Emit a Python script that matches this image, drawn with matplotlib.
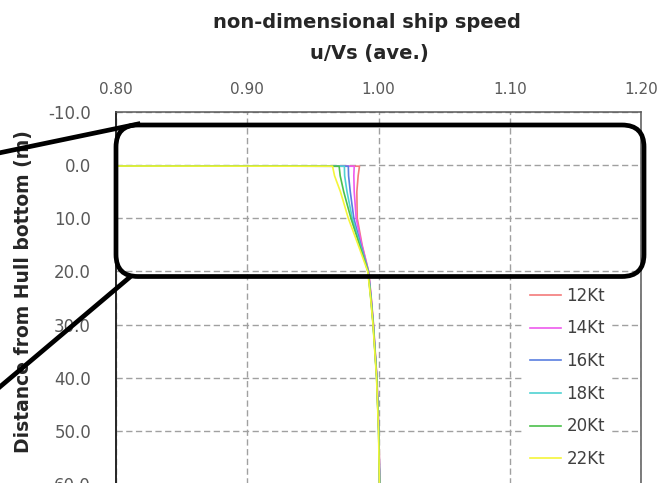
import matplotlib.pyplot as plt
import numpy as np
from matplotlib.patches import FancyBboxPatch
from matplotlib.lines import Line2D

plt.rcParams['axes.unicode_minus'] = False
plt.rcParams['font.family'] = 'DejaVu Sans'

# distance from hull bottom (m)
distance = [0.0, 0.2, 2.0, 5.0, 10.0, 15.0, 20.0, 25.0, 30.0, 40.0, 50.0, 60.0]

# u/Vs profiles per ship speed
u_12kt = [0.0, 0.9855, 0.9845, 0.9835, 0.9838, 0.9875, 0.9925, 0.9945, 0.9962, 0.9988, 1.0003, 1.0010]
u_14kt = [0.0, 0.9815, 0.9812, 0.9815, 0.9830, 0.9872, 0.9924, 0.9944, 0.9961, 0.9987, 1.0002, 1.0009]
u_16kt = [0.0, 0.9770, 0.9772, 0.9785, 0.9812, 0.9865, 0.9923, 0.9943, 0.9960, 0.9987, 1.0002, 1.0009]
u_18kt = [0.0, 0.9740, 0.9742, 0.9760, 0.9800, 0.9860, 0.9921, 0.9942, 0.9960, 0.9986, 1.0001, 1.0008]
u_20kt = [0.0, 0.9700, 0.9708, 0.9735, 0.9790, 0.9855, 0.9920, 0.9941, 0.9959, 0.9986, 1.0001, 1.0008]
u_22kt = [0.0, 0.9650, 0.9665, 0.9710, 0.9770, 0.9845, 0.9918, 0.9940, 0.9958, 0.9985, 1.0000, 1.0007]

labels = ['12Kt', '14Kt', '16Kt', '18Kt', '20Kt', '22Kt']
colors = ['#f47a7a', '#ee5bee', '#5a7fe0', '#4fd2d2', '#4cc04c', '#f5f53a']
profiles = [u_12kt, u_14kt, u_16kt, u_18kt, u_20kt, u_22kt]

fig = plt.figure(figsize=(6.72, 4.83), dpi=100)
ax = fig.add_axes([116 / 672, -1 / 483, (641 - 116) / 672, (484 - 112) / 483])

for u, c, lab in zip(profiles, colors, labels):
    ax.plot(u, distance, color=c, linewidth=1.2, label=lab)

ax.set_xlim(0.80, 1.20)
ax.set_ylim(60, -10)
ax.set_xticks(np.arange(0.80, 1.201, 0.10))
ax.set_yticks(np.arange(-10, 60.1, 10))
ax.xaxis.set_major_formatter(plt.FormatStrFormatter('%.2f'))
ax.yaxis.set_major_formatter(plt.FormatStrFormatter('%.1f'))
ax.xaxis.tick_top()
ax.tick_params(axis='x', length=0, pad=11, labelsize=11, labelcolor='#595959')
ax.tick_params(axis='y', length=0, pad=18, labelsize=12, labelcolor='#595959')

ax.grid(True, color='#a0a0a0', linestyle=(0, (4.5, 2.5)), linewidth=1.0)
for side in ['top', 'right']:
    ax.spines[side].set_color('#595959')
    ax.spines[side].set_linewidth(1.1)
ax.spines['left'].set_color('#262626')
ax.spines['left'].set_linewidth(1.4)
ax.spines['bottom'].set_visible(False)

leg = ax.legend(loc='upper left', bbox_to_anchor=(523 / 672, 1 - 280 / 483),
                bbox_transform=fig.transFigure, fontsize=12, frameon=True,
                facecolor='white', edgecolor='none', framealpha=1, fancybox=False,
                borderaxespad=0, borderpad=0.4, handlelength=1.9,
                handletextpad=0.3, labelspacing=0.88)
for t in leg.get_texts():
    t.set_color('#404040')

# titles
fig.text(367 / 672, 1 - 22 / 483, 'non-dimensional ship speed', ha='center', va='center',
         fontsize=14, fontweight='bold', color='#262626')
fig.text(369 / 672, 1 - 54 / 483, 'u/Vs (ave.)', ha='center', va='center',
         fontsize=14, fontweight='bold', color='#262626')
fig.text(24 / 672, 1 - 292 / 483, 'Distance from Hull bottom (m)', ha='center', va='center',
         rotation=90, fontsize=13.5, fontweight='bold', color='#262626')

# zoom highlight box and leader lines (inch coordinates)
box = FancyBboxPatch((1.16, 4.83 - 2.765), 5.28, 1.515,
                     boxstyle='round,pad=0,rounding_size=0.22',
                     transform=fig.dpi_scale_trans, fill=False,
                     edgecolor='black', linewidth=3.4, zorder=10)
fig.add_artist(box)
fig.add_artist(Line2D([-0.05, 1.38], [4.83 - 1.538, 4.83 - 1.24], color='black',
                      linewidth=3.4, transform=fig.dpi_scale_trans, zorder=10))
fig.add_artist(Line2D([-0.05, 1.30], [4.83 - 3.91, 4.83 - 2.77], color='black',
                      linewidth=3.4, transform=fig.dpi_scale_trans, zorder=10))

fig.savefig('out.png', dpi=100)
